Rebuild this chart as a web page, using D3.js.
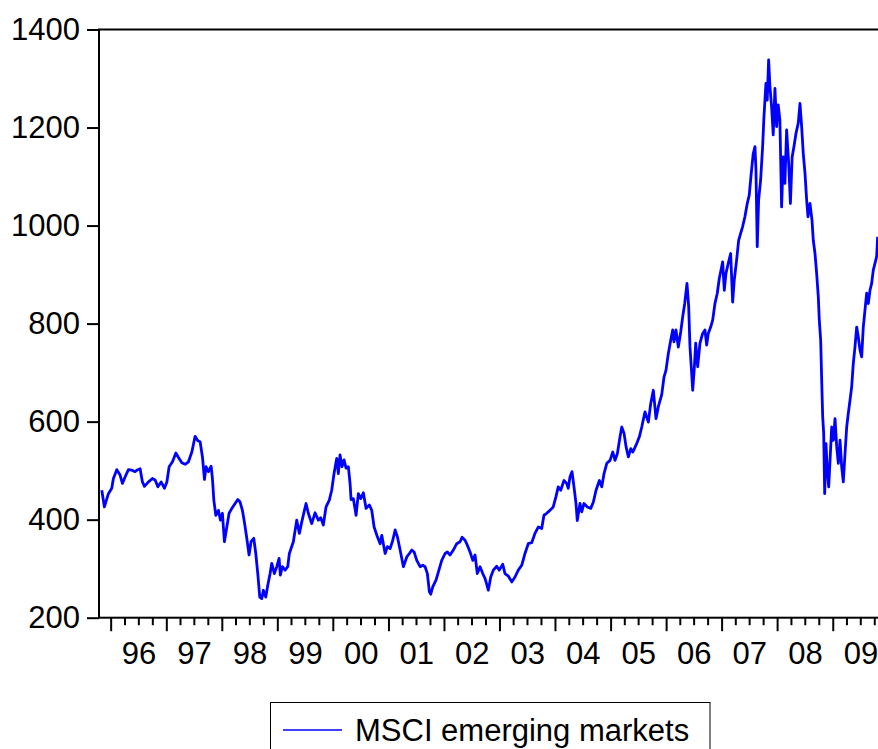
<!DOCTYPE html>
<html>
<head>
<meta charset="utf-8">
<script src="https://cdn.jsdelivr.net/npm/d3@7"></script>
<style>
  html, body { margin: 0; padding: 0; background: #ffffff; }
  svg { display: block; font-family: "Liberation Sans", Arial, sans-serif; }
</style>
</head>
<body>
<svg id="chart" width="878" height="749"></svg>
<script>
// MSCI emerging markets index, observation dates as decimal years
const dates = [
  1995.831, 1995.878, 1995.950, 1996.011, 1996.040, 1996.101, 1996.160, 1996.202, 1996.250, 1996.310,
  1996.371, 1996.430, 1996.479, 1996.520, 1996.562, 1996.598, 1996.670, 1996.742, 1996.790, 1996.839,
  1996.898, 1996.958, 1997.001, 1997.042, 1997.102, 1997.163, 1997.210, 1997.271, 1997.330, 1997.390,
  1997.451, 1997.510, 1997.559, 1997.600, 1997.642, 1997.678, 1997.708, 1997.750, 1997.798, 1997.822,
  1997.847, 1997.883, 1997.930, 1997.966, 1998.002, 1998.038, 1998.081, 1998.122, 1998.182, 1998.230,
  1998.279, 1998.320, 1998.362, 1998.398, 1998.441, 1998.482, 1998.518, 1998.567, 1998.603, 1998.639,
  1998.675, 1998.711, 1998.740, 1998.783, 1998.819, 1998.861, 1998.891, 1998.938, 1998.981, 1999.023,
  1999.046, 1999.082, 1999.131, 1999.179, 1999.208, 1999.280, 1999.341, 1999.388, 1999.431, 1999.473,
  1999.509, 1999.550, 1999.611, 1999.671, 1999.730, 1999.773, 1999.820, 1999.869, 1999.928, 1999.971,
  2000.013, 2000.061, 2000.090, 2000.121, 2000.157, 2000.193, 2000.229, 2000.270, 2000.301, 2000.319,
  2000.360, 2000.409, 2000.450, 2000.493, 2000.540, 2000.589, 2000.648, 2000.691, 2000.733, 2000.792,
  2000.841, 2000.871, 2000.931, 2000.972, 2001.021, 2001.069, 2001.111, 2001.152, 2001.201, 2001.260,
  2001.321, 2001.368, 2001.411, 2001.453, 2001.501, 2001.561, 2001.610, 2001.651, 2001.692, 2001.728,
  2001.753, 2001.789, 2001.849, 2001.908, 2001.951, 2002.011, 2002.052, 2002.101, 2002.160, 2002.221,
  2002.281, 2002.317, 2002.371, 2002.412, 2002.461, 2002.510, 2002.551, 2002.592, 2002.641, 2002.690,
  2002.731, 2002.749, 2002.790, 2002.834, 2002.880, 2002.942, 2002.988, 2003.050, 2003.091, 2003.150,
  2003.212, 2003.271, 2003.330, 2003.392, 2003.451, 2003.510, 2003.572, 2003.631, 2003.690, 2003.752,
  2003.793, 2003.842, 2003.901, 2003.960, 2004.009, 2004.050, 2004.094, 2004.153, 2004.202, 2004.230,
  2004.261, 2004.297, 2004.333, 2004.369, 2004.392, 2004.441, 2004.472, 2004.513, 2004.573, 2004.634,
  2004.681, 2004.729, 2004.789, 2004.832, 2004.873, 2004.922, 2004.981, 2005.030, 2005.071, 2005.113,
  2005.161, 2005.192, 2005.233, 2005.269, 2005.311, 2005.354, 2005.390, 2005.449, 2005.509, 2005.552,
  2005.611, 2005.671, 2005.714, 2005.761, 2005.809, 2005.850, 2005.912, 2005.953, 2005.989, 2006.031,
  2006.074, 2006.110, 2006.133, 2006.169, 2006.211, 2006.254, 2006.290, 2006.326, 2006.367, 2006.398,
  2006.421, 2006.452, 2006.470, 2006.499, 2006.524, 2006.560, 2006.601, 2006.650, 2006.691, 2006.722,
  2006.751, 2006.794, 2006.830, 2006.871, 2006.913, 2006.949, 2006.992, 2007.010, 2007.039, 2007.069,
  2007.111, 2007.154, 2007.190, 2007.219, 2007.262, 2007.298, 2007.334, 2007.370, 2007.411, 2007.453,
  2007.489, 2007.519, 2007.561, 2007.592, 2007.610, 2007.633, 2007.658, 2007.694, 2007.730, 2007.754,
  2007.790, 2007.813, 2007.838, 2007.862, 2007.892, 2007.921, 2007.952, 2007.982, 2008.011, 2008.041,
  2008.072, 2008.101, 2008.131, 2008.162, 2008.200, 2008.230, 2008.261, 2008.293, 2008.330, 2008.371,
  2008.402, 2008.432, 2008.461, 2008.492, 2008.522, 2008.546, 2008.582, 2008.618, 2008.641, 2008.672,
  2008.702, 2008.731, 2008.749, 2008.774, 2008.792, 2008.810, 2008.828, 2008.846, 2008.869, 2008.893,
  2008.918, 2008.942, 2008.972, 2009.001, 2009.032, 2009.062, 2009.091, 2009.122, 2009.152, 2009.181,
  2009.212, 2009.242, 2009.271, 2009.302, 2009.332, 2009.361, 2009.392, 2009.422, 2009.451, 2009.482,
  2009.512, 2009.541, 2009.572, 2009.602, 2009.631, 2009.662, 2009.692, 2009.721, 2009.752, 2009.782,
  2009.800
];

const msci = [
  460, 426, 453, 464, 484, 502, 491, 474, 487, 502,
  501, 498, 502, 504, 477, 468, 477, 484, 481, 467,
  477, 464, 477, 508, 518, 536, 527, 516, 513, 518,
  538, 570, 561, 559, 528, 482, 508, 498, 509, 484,
  440, 409, 419, 399, 413, 355, 385, 413, 425, 433,
  441, 436, 419, 395, 362, 328, 355, 362, 331, 290,
  242, 239, 256, 242, 266, 290, 311, 290, 304, 321,
  287, 304, 297, 304, 331, 355, 399, 372, 395, 416,
  433, 413, 392, 414, 399, 404, 389, 426, 440, 460,
  494, 525, 494, 532, 508, 522, 505, 508, 474, 441,
  443, 409, 453, 443, 455, 423, 430, 419, 385, 365,
  351, 368, 331, 345, 341, 358, 379, 365, 338, 304,
  324, 331, 338, 334, 317, 304, 307, 304, 290, 253,
  248, 263, 277, 300, 317, 331, 334, 328, 338, 351,
  355, 364, 358, 348, 334, 317, 328, 290, 304, 290,
  280, 273, 256, 283, 297, 305, 297, 309, 290, 285,
  273, 283, 297, 307, 331, 351, 353, 372, 385, 382,
  409, 413, 419, 426, 447, 467, 460, 480, 474, 464,
  487, 498, 467, 433, 398, 433, 416, 433, 426, 423,
  436, 460, 480, 467, 494, 515, 521, 538, 521, 535,
  569, 589, 576, 549, 528, 545, 538, 552, 569, 589,
  620, 599, 637, 664, 606, 630, 655, 691, 705, 739,
  766, 787, 763, 787, 752, 783, 814, 841, 882, 834,
  753, 698, 664, 709, 760, 712, 760, 780, 787, 756,
  780, 793, 807, 841, 862, 892, 916, 926, 868, 902,
  923, 943, 844, 889, 930, 970, 984, 998, 1018, 1045,
  1062, 1100, 1147, 1161, 1113, 957, 1052, 1093, 1161, 1222,
  1290, 1256, 1338, 1283, 1242, 1185, 1280, 1202, 1246, 1215,
  1038, 1140, 1086, 1195, 1125, 1045, 1140, 1161, 1188, 1209,
  1249, 1202, 1147, 1107, 1052, 1018, 1045, 1011, 970, 943,
  902, 855, 807, 766, 685, 610, 576, 453, 555, 501,
  467, 521, 589, 562, 606, 549, 515, 562, 508, 477,
  535, 589, 617, 644, 671, 719, 753, 793, 773, 746,
  732, 793, 828, 862, 841, 868, 882, 909, 923, 937,
  977
];

const yTicks = [200, 400, 600, 800, 1000, 1200, 1400];
const seriesName = "MSCI emerging markets";
const fontSize = "31px";

// convert a decimal year to a Date
function toDate(t) {
  const yr = Math.floor(t);
  const a = new Date(yr, 0, 1), b = new Date(yr + 1, 0, 1);
  return new Date(+a + (t - yr) * (b - a));
}

const data = dates.map((t, i) => ({ date: toDate(t), value: msci[i] }));

const svg = d3.select("#chart");
const plotLeft = 99, plotTop = 29.5, plotBottom = 617.7, plotRight = 880.7;

const x = d3.scaleTime()
  .domain([new Date(1995, 9, 13), new Date(2009, 10, 9)])
  .range([plotLeft, plotRight]);
const y = d3.scaleLinear().domain([200, 1400]).range([plotBottom, plotTop]);

// plot frame (right edge runs past the canvas)
svg.append("rect")
  .attr("x", plotLeft).attr("y", plotTop)
  .attr("width", plotRight + 10 - plotLeft).attr("height", plotBottom - plotTop)
  .attr("fill", "none").attr("stroke", "#000").attr("stroke-width", 2);

// y axis
const yAxis = d3.axisLeft(y).tickValues(yTicks).tickFormat(d3.format("d"))
  .tickSize(12).tickPadding(7);
const gy = svg.append("g").attr("transform", `translate(${plotLeft},0)`).call(yAxis);
gy.select(".domain").remove();
gy.selectAll(".tick line").attr("stroke", "#000").attr("stroke-width", 2);
gy.selectAll(".tick text")
  .attr("fill", "#000").style("font-size", fontSize)
  .style("font-family", '"Liberation Sans", Arial, sans-serif');

// x axis: quarterly minor ticks, yearly major ticks, labels mid-year
const quarters = d3.timeMonth.every(3).range(x.domain()[0], x.domain()[1]);
svg.append("g").selectAll("line")
  .data(quarters)
  .join("line")
  .attr("x1", d => x(d)).attr("x2", d => x(d))
  .attr("y1", plotBottom).attr("y2", d => plotBottom + (d.getMonth() === 0 ? 13.5 : 7.5))
  .attr("stroke", "#000").attr("stroke-width", 2);

const years = d3.range(1996, 2010);
svg.append("g").selectAll("text")
  .data(years)
  .join("text")
  .attr("x", d => x(new Date(d, 6, 2)))
  .attr("y", 664)
  .attr("text-anchor", "middle")
  .style("font-size", fontSize)
  .attr("fill", "#000")
  .text(d => d3.timeFormat("%y")(new Date(d, 0, 1)));

// series line
const line = d3.line().x(d => x(d.date)).y(d => y(d.value));
svg.append("path")
  .datum(data)
  .attr("d", line)
  .attr("fill", "none")
  .attr("stroke", "#0000ff")
  .attr("stroke-width", 2.8)
  .attr("stroke-linejoin", "round");

// legend
const lg = svg.append("g");
lg.append("rect")
  .attr("x", 270.5).attr("y", 702.5)
  .attr("width", 439.5).attr("height", 60)
  .attr("fill", "#fff").attr("stroke", "#000").attr("stroke-width", 1);
lg.append("line")
  .attr("x1", 283).attr("x2", 342).attr("y1", 730).attr("y2", 730)
  .attr("stroke", "#0000ff").attr("stroke-width", 1.5);
lg.append("text")
  .attr("x", 355).attr("y", 741)
  .style("font-size", fontSize)
  .attr("fill", "#000")
  .text(seriesName);
</script>
</body>
</html>
